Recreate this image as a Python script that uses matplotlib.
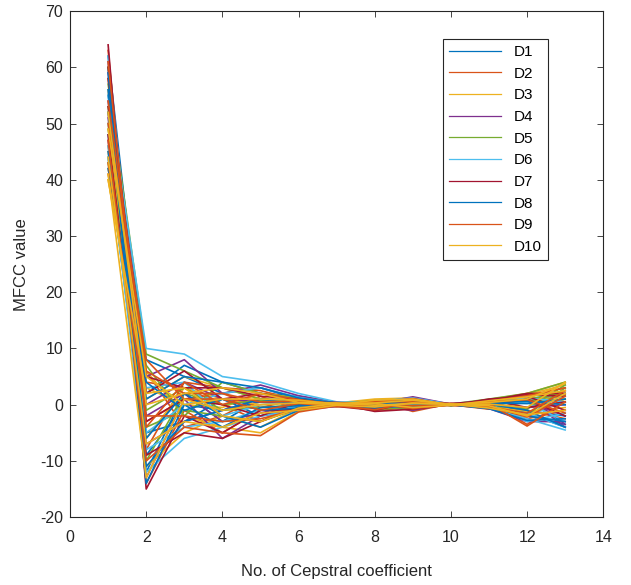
import numpy as np
import matplotlib
matplotlib.use("Agg")
import matplotlib.pyplot as plt

plt.rcParams['font.family'] = ['Liberation Sans', 'DejaVu Sans']
plt.rcParams['axes.unicode_minus'] = False

# coeficientes cepstrais 1..13
coef = np.arange(1, 14)

# alguns quadros de MFCC por classe (valores lidos aproximadamente do grafico)
D1 = [[60, -12, 2, -3, 1, 0.5, 0.2, -0.5, 0.3, 0, 0.5, -1, -2],
      [55, 8, 5, 2, 3, 1, 0.3, 0.2, -0.3, 0.1, -0.4, -2, -3.5],
      [48, -5, -3, 1, -2, -0.5, -0.2, 0.5, 0.8, -0.1, 0.3, 0.8, 1.5],
      [62, 2, 7, 4, 2, 1.5, 0.4, -0.3, -0.6, 0.05, 0.6, -1.5, -4],
      [44, -9, 0, -1, 0.5, 0.3, 0, 0.6, 0.2, 0, -0.2, 1, 2]]
D2 = [[52, -14, -1, -5, -1, -0.8, 0.1, -1, -0.5, 0.1, 0.8, 1.5, 3],
      [46, 4, 3, 0, -3, 0.5, -0.3, 0.3, 1, -0.1, -0.6, -2.5, -1],
      [58, -3, 1, 2, -0.5, 1, 0.2, 0.8, -1.2, 0.2, 0.4, -3.5, 0.5],
      [41, 6, -4, -2, 1.5, -1, 0.3, -0.4, 0.6, 0, -0.8, 0.5, 2.5],
      [63, -8, 4, 3, 2.5, 0.8, -0.1, 0.2, 0.4, -0.2, 0.2, -1, -2.5]]
D3 = [[42, 6, -2, -4, -5, -1.2, 0.3, 1, 1.2, 0.1, 0.5, 1.8, 3.5],
      [50, -6, 3, 1, 0, 0.6, -0.4, -0.2, -0.8, 0, -0.3, -1.2, -0.5],
      [45, 1, 5, 3, 1, 0.2, 0.1, 0.4, 0.5, -0.1, 0.9, 2, 4],
      [56, -11, -5, -2, -4, -0.6, 0.2, -0.6, -0.2, 0.2, -0.5, -2, 1],
      [40, 3, 0, -0.5, 2, 1.2, 0, 0.1, 0.3, 0, 0.1, 0.3, 1.8]]
D4 = [[61, -13, 1, -6, -2, -1, -0.3, 0.2, 1.4, 0.1, -0.7, -3, -3],
      [54, 0, 4, 1, 0.5, 0.4, 0.2, -0.5, -0.4, -0.1, 0.2, 1.2, -4],
      [47, -7, -3, -1, 1, -0.3, 0.1, 0.6, 0.9, 0, 0.6, 0.5, -2],
      [59, 5, 8, 2, 3.5, 1.6, 0.4, -0.2, -1, 0.2, -0.2, -0.5, 0],
      [51, -2, 2, -3, -1.5, 0.2, -0.2, 0.3, 0.7, -0.1, 0.4, 1.5, -3.5]]
D5 = [[57, 9, 6, 3, 1, 0.9, 0.3, 0.5, -0.2, 0.1, 1, 2, 4],
      [43, -4, -1, -2, -3, -0.7, -0.1, -0.3, 0.4, 0, -0.4, -1.8, 3],
      [53, -10, 2, 0, 0.8, 0.3, 0.2, 0.7, 1, -0.2, 0.7, 1, 2],
      [49, 7, -2, 4, 2, 1.1, 0, -0.8, -0.5, 0.1, -0.1, -0.8, 3.5],
      [60, -1, 3, -1, -0.5, 0, 0.1, 0.2, 0.6, 0, 0.3, 0.8, 1]]
D6 = [[55, 10, 9, 5, 4, 2, 0.5, 0.3, -0.5, 0.1, -0.3, -2.5, -4.5],
      [46, -12, -6, -4, -2, -1, -0.2, -0.1, 0.8, -0.1, 0.5, 0.4, -3],
      [62, -5, 0, 2, 3, 1.3, 0.3, 0.4, 0.2, 0.05, -0.6, -1.5, -4],
      [50, 3, 4, -2, 0, 0.5, 0, -0.4, -0.3, 0, 0.2, -3, -1.5],
      [44, -8, -4, -3, -1, -0.4, -0.1, 0.6, 1.2, 0.1, 0.8, 1.2, 0.5]]
D7 = [[64, -15, -2, -5, -1, -0.9, 0.2, -1.2, -0.8, 0, 0.6, 1.8, 1.5],
      [58, 2, 6, 1, 2, 0.7, 0.4, 0.1, 0.3, -0.1, 1, 1.5, -1],
      [48, -9, -5, -6, -3, -0.5, -0.3, -1, 0.5, 0.2, 0.7, 2, 2],
      [53, 5, 3, 3, 1.5, 1, 0.1, 0.5, -0.6, 0, -0.2, 1, -2],
      [60, -3, 1, 0, -2, 0.4, 0.2, -0.7, 1, -0.1, 0.9, -0.5, 0.5]]
D8 = [[45, -6, 2, -2, -4, -1, 0, 0.3, 0.6, 0, -0.5, -2, -3],
      [52, 1, 5, 4, 3, 1.2, 0.3, -0.2, -0.4, 0.1, 0.1, -1, -4],
      [59, -11, -3, -1, 1, 0.1, -0.2, 0.4, 0.9, -0.1, 0.4, 0.6, 0],
      [42, 4, -1, 1, -1, -0.6, 0.1, 0.1, 0.2, 0, -0.7, -2.8, -2.5],
      [56, -14, 0, -4, -0.5, -0.2, 0.2, -0.6, -0.1, 0.1, 0.3, 0.2, 1]]
D9 = [[47, -10, -4, -5, -5.5, -1.3, -0.2, -0.9, 0.4, 0.1, 0.2, -3.8, 0.5],
      [54, 6, 2, 2, 0.5, 0.6, 0.3, 0.2, -0.7, 0, -0.4, -1.5, 2.5],
      [61, -4, 4, 0, 2, 0.9, 0.1, 0.5, 1.1, -0.1, 0.5, 0.9, -1.5],
      [43, -2, -2, -3, -2.5, -0.8, 0, -0.3, -0.2, 0, 0.6, 1.6, 3],
      [50, 8, 1, 1, -1, 0.2, -0.3, 0.6, 0.5, 0.2, -0.3, -2.2, 1.5]]
D10 = [[40, 2, 3, -2, -3, -0.6, 0.2, 0.3, 0.8, 0, 0.4, 1, 3.8],
       [44, -7, -3, -4, -1.5, -1, -0.1, -0.4, 0.3, 0.1, -0.2, -2, 2],
       [49, 5, 0, 1, 1, 0.8, 0.1, 0.2, -0.5, -0.1, 0.7, 1.4, 2.5],
       [41, -13, 1, -1, 0, 0.3, 0, 0.8, 1, 0, 0.1, -0.5, 4],
       [52, 0, 2, 3, 2, 0.4, 0.3, -0.1, 0.2, 0.1, -0.6, -1.8, -1]]

classes = [D1, D2, D3, D4, D5, D6, D7, D8, D9, D10]
nomes = ["D1", "D2", "D3", "D4", "D5", "D6", "D7", "D8", "D9", "D10"]

# cores padrao do matlab
cores = [(0, 0.447, 0.741), (0.85, 0.325, 0.098), (0.929, 0.694, 0.125),
         (0.494, 0.184, 0.556), (0.466, 0.674, 0.188), (0.301, 0.745, 0.933),
         (0.635, 0.078, 0.184)]

fig = plt.figure(figsize=(6.31, 5.85), dpi=100)
ax = fig.add_axes([0.111, 0.116, 0.845, 0.865])

handles = []
for i, dados in enumerate(classes):
    cor = cores[i % len(cores)]
    for j, linha in enumerate(dados):
        h, = ax.plot(coef, linha, color=cor, linewidth=1.2)
        if j == 0:
            handles.append(h)

ax.set_xlim(0, 14)
ax.set_ylim(-20, 70)
ax.set_xticks(np.arange(0, 15, 2))
ax.set_yticks(np.arange(-20, 71, 10))
ax.tick_params(direction='in', top=True, right=True, labelsize=11.5,
               colors='#262626', length=4, width=0.6)
ax.tick_params(axis='x', pad=9)
ax.tick_params(axis='y', pad=5)
for s in ax.spines.values():
    s.set_linewidth(0.8)
    s.set_color('#262626')

ax.set_xlabel("No. of Cepstral coefficient", fontsize=12, color='#262626', labelpad=14)
ax.set_ylabel("MFCC value", fontsize=12, color='#262626', labelpad=8)

leg = ax.legend(handles, nomes, loc='upper left', bbox_to_anchor=(0.70, 0.945),
                fontsize=11, fancybox=False, framealpha=1, edgecolor='#262626',
                handlelength=3.4, labelspacing=0.5, borderaxespad=0)
leg.get_frame().set_linewidth(0.8)
for ln in leg.get_lines():
    ln.set_linewidth(0.9)

plt.savefig("out.png", dpi=100)
